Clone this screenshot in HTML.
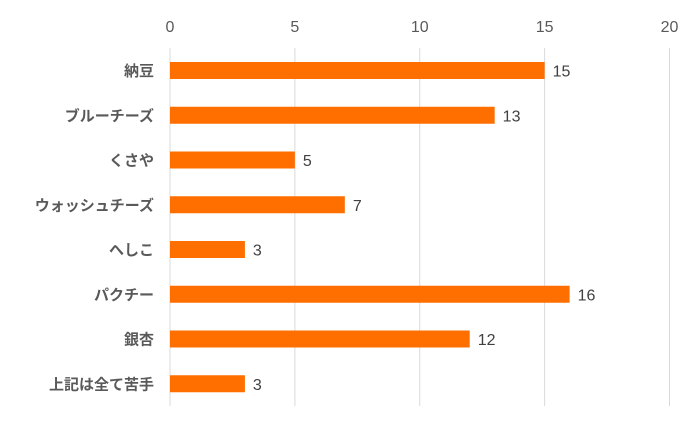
<!DOCTYPE html>
<html><head><meta charset="utf-8"><style>
html,body{margin:0;padding:0;background:#fff;}
svg{display:block;font-family:"Liberation Sans","Noto Sans CJK JP",sans-serif;}
</style></head><body>
<svg id="chart" width="700" height="434"></svg>
<script>
const categories=["納豆","ブルーチーズ","くさや","ウォッシュチーズ","へしこ","パクチー","銀杏","上記は全て苦手"];
const values=[15,13,5,7,3,16,12,3];
const ticks=[0,5,10,15,20];
const svg=document.getElementById('chart');
const NS='http://www.w3.org/2000/svg';
const x0=170,x1=669.5,xmax=20;
const xs=v=>x0+(x1-x0)*v/xmax;
const yTop=48,yBot=406,step=44.75;
const yc=i=>70.5+i*step;
function mk(t,a){const e=document.createElementNS(NS,t);for(const k in a)e.setAttribute(k,a[k]);svg.appendChild(e);return e;}
ticks.forEach(t=>{
const g=mk('line',{x1:xs(t),x2:xs(t),y1:yTop,y2:yBot,stroke:'#d9d9d9','stroke-width':1});


const l=mk('text',{x:xs(t),y:32,'text-anchor':'middle','font-size':16,fill:'#595959'});
l.textContent=t;


});
categories.forEach((c,i)=>{
const y=yc(i);
const b=mk('rect',{x:x0,y:y-8.5,width:xs(values[i])-x0,height:17,fill:'#ff6f00'});


const l=mk('text',{x:154,y:y+5.5,'text-anchor':'end','font-size':15,'font-weight':'bold',fill:'#595959'});
l.textContent=c;


const v=mk('text',{x:xs(values[i])+8,y:y+6,'font-size':16,fill:'#404040'});
v.textContent=values[i];


});
</script>
</body></html>
